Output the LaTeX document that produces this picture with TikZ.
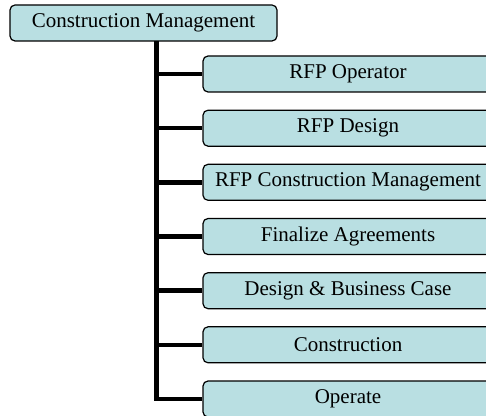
\documentclass[tikz,border=0pt]{standalone}
\usepackage{fontspec}
\setmainfont{Liberation Serif}
\usetikzlibrary{positioning}
\definecolor{boxblue}{RGB}{185,223,226}
\tikzset{
    stage/.style = {rectangle, rounded corners=5pt, draw=black, line width=1.2pt, fill=boxblue, align=center, inner sep=0pt, minimum width=290pt, minimum height=36pt, font=\fontsize{21}{24}\selectfont},
    head/.style = {stage, minimum width=267pt},
}

\begin{document}
\begin{tikzpicture}[x=1pt,y=1pt]
\tikzset{
    branch/.style = {-, line width=4.6pt, black},
}
\clip (0,0) rectangle (486,415);
\node[head] at (143.5,392.0) (cm) {Construction Management};
\node[stage] at (348,341.0) (rfpo) {RFP Operator};
\node[stage] at (348,286.8) (rfpd) {RFP Design};
\node[stage] at (348,232.7) (rfpcm) {RFP Construction Management};
\node[stage] at (348,178.5) (agree) {Finalize Agreements};
\node[stage] at (348,124.3) (bcase) {Design \& Business Case};
\node[stage] at (348,70.2) (constr) {Construction};
\node[stage] at (348,16.0) (opr) {Operate};
\coordinate (root) at (156.5,374.0);
% trunk, ending in the last branch
\draw[branch] (root) |- (opr.west);
\draw[branch] (rfpo.west -| root) -- (rfpo.west);
\draw[branch] (rfpd.west -| root) -- (rfpd.west);
\draw[branch] (rfpcm.west -| root) -- (rfpcm.west);
\draw[branch] (agree.west -| root) -- (agree.west);
\draw[branch] (bcase.west -| root) -- (bcase.west);
\draw[branch] (constr.west -| root) -- (constr.west);

\end{tikzpicture}
\end{document}
